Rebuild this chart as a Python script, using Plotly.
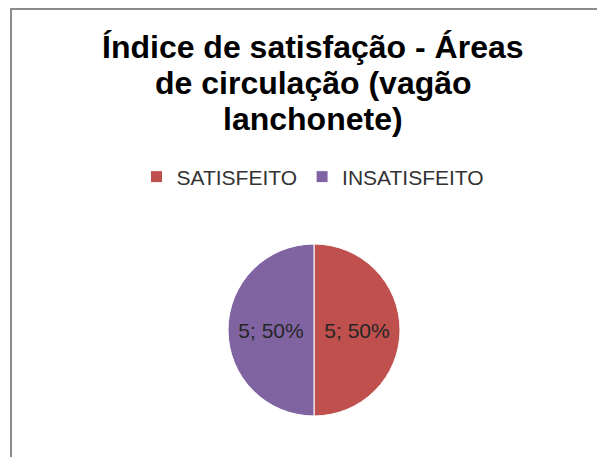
import plotly.graph_objects as go

categories = ["SATISFEITO", "INSATISFEITO"]
counts = [5, 5]
colors = ["#C0504D", "#8064A2"]
title_lines = ["Índice de satisfação - Áreas", "de circulação (vagão", "lanchonete)"]

W, H = 605, 457
OFF = 8  # the page body adds an 8px margin, so shift positions back
cx, cy, r = 314 - OFF, 330 - OFF, 86

labels_text = [f"{v}; {round(100 * v / sum(counts))}%" for v in counts]

fig = go.Figure()
fig.add_trace(go.Pie(
    labels=categories,
    values=counts,
    text=labels_text,
    textinfo="text",
    textposition="inside",
    insidetextorientation="horizontal",
    textfont=dict(family="Liberation Sans, Arial", size=21, color="#262626"),
    marker=dict(colors=colors, line=dict(color="#ffffff", width=1)),
    sort=False,
    direction="clockwise",
    rotation=0,
    hoverinfo="skip",
    domain=dict(x=[(cx - r) / W, (cx + r) / W], y=[(H - cy - r) / H, (H - cy + r) / H]),
))

# title, one annotation per line so the line spacing matches
for i, line in enumerate(title_lines):
    fig.add_annotation(
        text=f"<b>{line}</b>", x=(313 - OFF) / W, y=(H - (47 - OFF) - 36 * i) / H,
        xref="paper", yref="paper", xanchor="center", yanchor="middle",
        showarrow=False,
        font=dict(family="Liberation Sans, Arial", size=32, color="#000000"),
    )

# chart frame (cut off at right and bottom in the original)
fig.add_shape(type="rect", xref="paper", yref="paper",
              x0=(11 - OFF) / W, x1=1.1, y0=-0.1, y1=(H - 1) / H,
              line=dict(color="#8c8c8c", width=2))

fig.update_layout(
    width=W, height=H,
    margin=dict(l=0, r=0, t=0, b=0),
    paper_bgcolor="white",
    plot_bgcolor="white",
    showlegend=True,
    legend=dict(
        orientation="h", x=(313 - OFF) / W, xanchor="center",
        y=(H - (177 - OFF)) / H, yanchor="middle",
        font=dict(family="Liberation Sans, Arial", size=21, color="#333333"),
        traceorder="normal",
    ),
)

fig.write_html("out.html")
